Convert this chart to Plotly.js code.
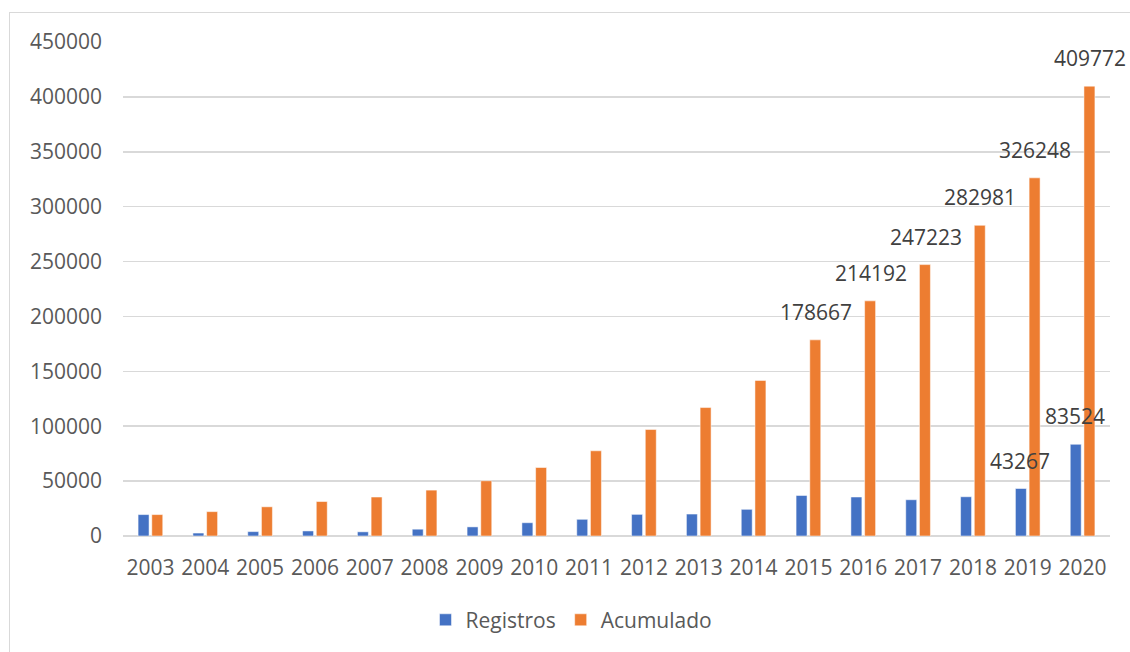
<!DOCTYPE html>
<html>
<head>
<meta charset="utf-8">
<script src="https://cdn.plot.ly/plotly-3.0.1.min.js"></script>
<style>
  html, body { margin: 0; padding: 0; background: #ffffff; }
  #frame { position: absolute; left: 9px; top: 12px; width: 1130px; height: 660px; border: 1.5px solid #d9d9d9; box-sizing: border-box; }
  #chart { position: absolute; left: 0; top: 0; width: 1130px; height: 652px; }
</style>
</head>
<body>
<div id="frame"></div>
<div id="chart"></div>
<script>
const years = ['2003','2004','2005','2006','2007','2008','2009','2010','2011','2012','2013','2014','2015','2016','2017','2018','2019','2020'];
const registros = [19500, 2700, 4000, 4600, 3800, 6200, 8300, 12100, 15200, 19700, 20000, 24300, 36900, 35525, 33031, 35758, 43267, 83524];
const acumulado = [19500, 22200, 26600, 31400, 35500, 41800, 50300, 62400, 77600, 97000, 117000, 141700, 178667, 214192, 247223, 282981, 326248, 409772];
const labelRegistros = [false,false,false,false,false,false,false,false,false,false,false,false,false,false,false,false,true,true];
const labelAcumulado = [false,false,false,false,false,false,false,false,false,false,false,false,true,true,true,true,true,true];
const seriesNames = ['Registros', 'Acumulado'];
const yTicks = [0, 50000, 100000, 150000, 200000, 250000, 300000, 350000, 400000, 450000];

const FONT = '"Open Sans", "Liberation Sans", sans-serif';

const traces = [
  { type: 'bar', name: seriesNames[0], x: years, y: registros,
    marker: { color: '#4472c4', line: { color: 'rgba(255,255,255,0.5)', width: 1 } } },
  { type: 'bar', name: seriesNames[1], x: years, y: acumulado,
    marker: { color: '#ed7d31', line: { color: 'rgba(255,255,255,0.5)', width: 1 } } }
];

const annotations = [];
function addLabels(vals, flags, shift) {
  vals.forEach((v, i) => {
    if (!flags[i]) return;
    annotations.push({ x: i, y: v, xref: 'x', yref: 'y', text: String(v),
      showarrow: false, yanchor: 'bottom', xanchor: 'center', xshift: shift, yshift: 12,
      font: { family: FONT, size: 21, color: '#404040' } });
  });
}
addLabels(registros, labelRegistros, -7.5);
addLabels(acumulado, labelAcumulado, 7.5);

const layout = {
  width: 1130, height: 652,
  margin: { l: 123, r: 20, t: 42, b: 115 },
  paper_bgcolor: 'rgba(0,0,0,0)', plot_bgcolor: 'rgba(0,0,0,0)',
  barmode: 'group', bargap: 0.5, bargroupgap: 0.2,
  font: { family: FONT, size: 21, color: '#595959' },
  xaxis: { type: 'category', range: [-0.5, years.length - 0.5], autorange: false,
    showgrid: false, showline: false, zeroline: false,
    ticks: '', ticklabelstandoff: 17, tickfont: { family: FONT, size: 21, color: '#595959' } },
  yaxis: { range: [0, 450000], autorange: false, tickvals: yTicks, ticktext: yTicks.map(String),
    showgrid: true, gridcolor: '#d9d9d9', gridwidth: 1.5,
    zeroline: true, zerolinecolor: '#d9d9d9', zerolinewidth: 2, showline: false,
    ticks: '', ticklabelstandoff: 20, tickfont: { family: FONT, size: 21, color: '#595959' } },
  showlegend: true,
  legend: { orientation: 'h', x: 0.4544, xanchor: 'center', y: -0.168, yanchor: 'middle',
    font: { family: FONT, size: 21, color: '#595959' }, itemwidth: 30, tracegroupgap: 0 },
  annotations: annotations
};

Plotly.newPlot('chart', traces, layout, { displayModeBar: false, staticPlot: true });
</script>
</body>
</html>
